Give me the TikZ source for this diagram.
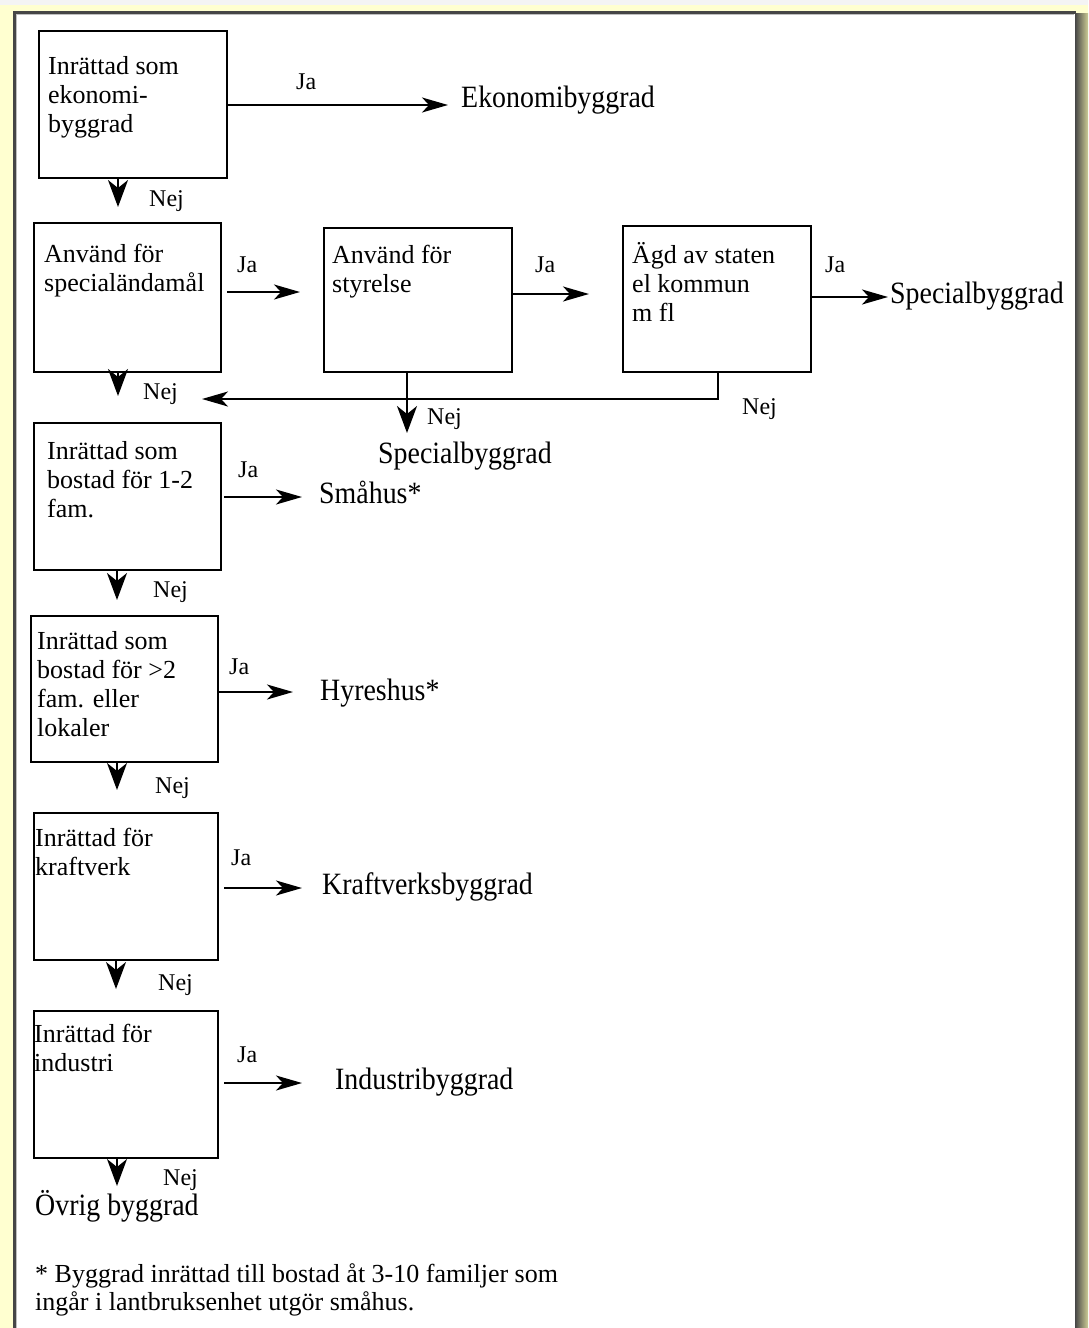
\documentclass[tikz,border=0pt]{standalone}
\usepackage{fontspec}
\setmainfont{Liberation Serif}
\newfontfamily\lblf[FakeStretch=0.9]{Liberation Serif}
\usetikzlibrary{arrows.meta}
\definecolor{bgyellow}{RGB}{255,255,208}
\definecolor{topgray}{RGB}{244,244,244}
\definecolor{framec}{RGB}{70,70,70}
\definecolor{shadeolive}{RGB}{205,205,150}
\newcommand\mlines[1]{\begin{tabular}[t]{@{}l@{}}#1\end{tabular}}
\tikzset{
  boxs/.style={draw, line width=2.2pt, inner sep=0pt, anchor=north west},
  btext/.style={font=\fontsize{26}{29}\selectfont, inner sep=0pt, anchor=base west},
  lbl/.style={font=\lblf\fontsize{31}{34}\selectfont, inner sep=0pt, anchor=base west},
  jalbl/.style={font=\fontsize{24}{26}\selectfont, inner sep=0pt, anchor=base west},
  nejlbl/.style={font=\fontsize{24}{26}\selectfont, inner sep=0pt, anchor=base west},
  fnote/.style={font=\fontsize{26}{28}\selectfont, inner sep=0pt, anchor=base west},
  harr/.style={line width=2pt, -{Stealth[length=26pt,width=15pt,inset=7pt]}},
  varr/.style={line width=2pt, -{Stealth[length=27pt,width=20pt,inset=8pt]}},
}
\begin{document}
\begin{tikzpicture}[x=1pt,y=-1pt]
\useasboundingbox (0,0) rectangle (1088,1328);
% background and panel
\fill[bgyellow] (0,0) rectangle (1088,1328);
\fill[topgray] (0,0) rectangle (1088,5);
\fill[white] (13,11) rectangle (1076,1328);
\shade[left color=framec, right color=shadeolive] (1075,13) rectangle (1088,1328);
\draw[framec, line width=2.5pt] (14.25,1328) -- (14.25,12.25) -- (1076,12.25);
\draw[gray!50, line width=1pt] (16.5,1328) -- (16.5,14.5) -- (1074,14.5);

% boxes
\node[boxs, minimum width=188pt, minimum height=147pt] (A) at (38,30) {};
\node[boxs, minimum width=187pt, minimum height=149pt] (B) at (33,222) {};
\node[boxs, minimum width=188pt, minimum height=144pt] (C) at (323,227) {};
\node[boxs, minimum width=188pt, minimum height=146pt] (D) at (622,225) {};
\node[boxs, minimum width=187pt, minimum height=147pt] (E) at (33,422) {};
\node[boxs, minimum width=187pt, minimum height=146pt] (F) at (30,615) {};
\node[boxs, minimum width=184pt, minimum height=147pt] (G) at (33,812) {};
\node[boxs, minimum width=184pt, minimum height=147pt] (H) at (33,1010) {};

% box texts
\node[btext] (At) at (48,74) {\mlines{Inrättad som\\ekonomi-\\byggrad}};
\node[btext] (Bt) at (44,262) {\mlines{Använd för\\specialändamål}};
\node[btext] (Ct) at (332,263) {\mlines{Använd för\\styrelse}};
\node[btext] (Dt) at (632,263) {\mlines{Ägd av staten\\el kommun\\m fl}};
\node[btext] (Et) at (47,459) {\mlines{Inrättad som\\bostad för 1-2\\fam.}};
\node[btext] (Ft) at (37,649) {\mlines{Inrättad som\\bostad för >2\\fam. eller\\lokaler}};
\node[btext] (Gt) at (35,846) {\mlines{Inrättad för\\kraftverk}};
\node[btext] (Ht) at (34,1042) {\mlines{Inrättad för\\industri}};

% result labels
\node[lbl] (eko) at (461,107) {Ekonomibyggrad};
\node[lbl] (spec1) at (890,303) {Specialbyggrad};
\node[lbl] (spec2) at (378,463) {Specialbyggrad};
\node[lbl] (sma) at (319,503) {Småhus*};
\node[lbl] (hyr) at (320,700) {Hyreshus*};
\node[lbl] (kraft) at (322,894) {Kraftverksbyggrad};
\node[lbl] (ind) at (335,1089) {Industribyggrad};
\node[lbl] (ovr) at (35,1215) {Övrig byggrad};

% footnote
\node[fnote] (fn) at (35,1282) {\mlines{* Byggrad inrättad till bostad åt 3-10 familjer som\\ingår i lantbruksenhet utgör småhus.}};

% arrow end coordinates
\coordinate (tAja) at (448,105);
\coordinate (sBja) at (227,292);
\coordinate (tBja) at (300,292);
\coordinate (tCja) at (589,294);
\coordinate (tDja) at (888,297);
\coordinate (sEja) at (224,497);
\coordinate (tEja) at (302,497);
\coordinate (tFja) at (293,692);
\coordinate (sGja) at (224,888);
\coordinate (tGja) at (302,888);
\coordinate (sHja) at (224,1083);
\coordinate (tHja) at (302,1083);
\coordinate (tL) at (202,399);
\coordinate (tC) at (407,433);
\coordinate (tA) at (118,207);
\coordinate (tB) at (118,396);
\coordinate (tE) at (117,600);
\coordinate (tF) at (117,790);
\coordinate (tG) at (116,989);
\coordinate (tH) at (117,1186);
\coordinate (dN) at (718,0);

% Ja arrows
\draw[harr] (A.east |- tAja) -- (tAja);
\draw[harr] (sBja) -- (tBja);
\draw[harr] (C.east |- tCja) -- (tCja);
\draw[harr] (D.east |- tDja) -- (tDja);
\draw[harr] (sEja) -- (tEja);
\draw[harr] (F.east |- tFja) -- (tFja);
\draw[harr] (sGja) -- (tGja);
\draw[harr] (sHja) -- (tHja);

% Nej arrows
\draw[varr] (A.south -| tA) -- (tA);
\draw[varr] (B.south -| tB) -- (tB);
\draw[varr] (C.south -| tC) -- (tC);
\draw[harr] (D.south -| dN) |- (tL);
\draw[varr] (E.south -| tE) -- (tE);
\draw[varr] (F.south -| tF) -- (tF);
\draw[varr] (G.south -| tG) -- (tG);
\draw[varr] (H.south -| tH) -- (tH);

% Ja labels
\node[jalbl] (jaA) at (296,89) {Ja};
\node[jalbl] (jaB) at (237,272) {Ja};
\node[jalbl] (jaC) at (535,272) {Ja};
\node[jalbl] (jaD) at (825,272) {Ja};
\node[jalbl] (jaE) at (238,477) {Ja};
\node[jalbl] (jaF) at (229,674) {Ja};
\node[jalbl] (jaG) at (231,865) {Ja};
\node[jalbl] (jaH) at (237,1062) {Ja};

% Nej labels
\node[nejlbl] (nA) at (149,206) {Nej};
\node[nejlbl] (nB) at (143,399) {Nej};
\node[nejlbl] (nC) at (427,424) {Nej};
\node[nejlbl] (nD) at (742,414) {Nej};
\node[nejlbl] (nE) at (153,597) {Nej};
\node[nejlbl] (nF) at (155,793) {Nej};
\node[nejlbl] (nG) at (158,990) {Nej};
\node[nejlbl] (nH) at (163,1185) {Nej};
\end{tikzpicture}
\end{document}
